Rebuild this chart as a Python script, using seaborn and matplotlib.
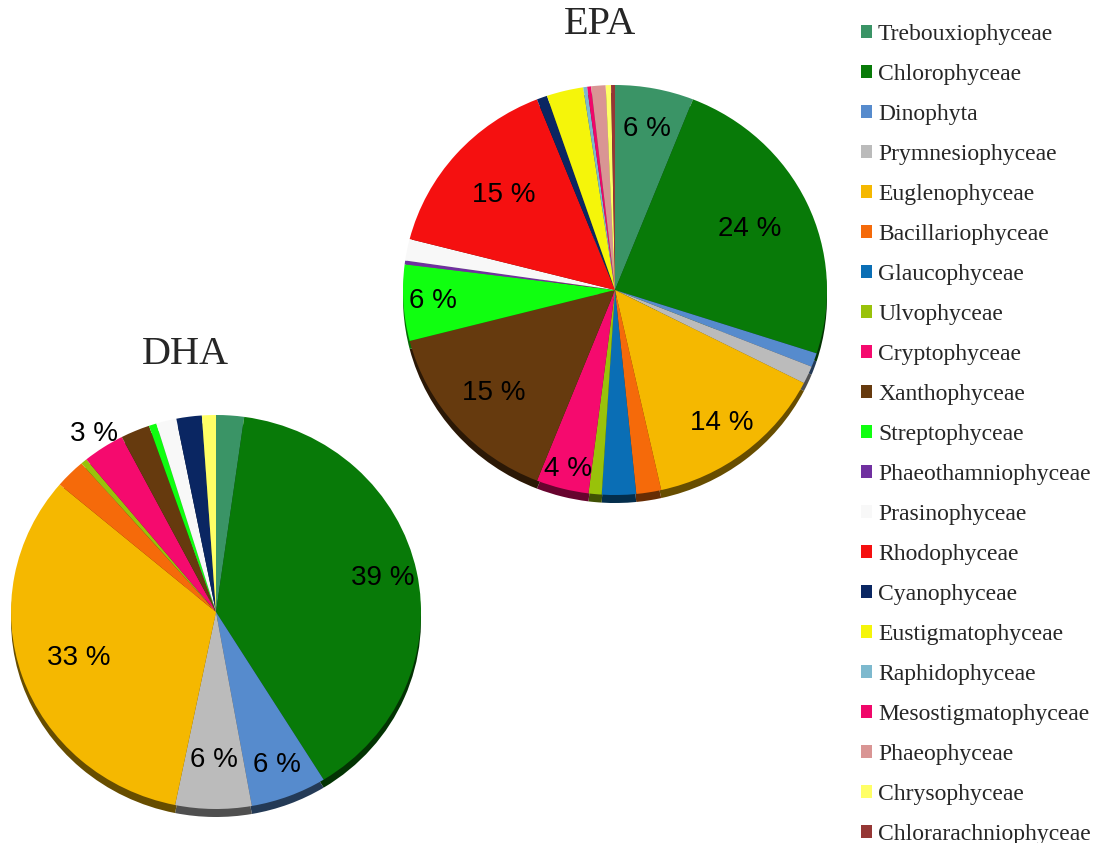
import numpy as np
import matplotlib
matplotlib.use("Agg")
import matplotlib.pyplot as plt
import matplotlib.colors as mcolors
from matplotlib.patches import Patch
import seaborn as sns

sns.set_theme(style="white")
plt.rcParams["font.family"] = ["Liberation Sans", "DejaVu Sans"]

# Algal classes (legend order = slice order, clockwise from 12 o'clock)
classes = [
    "Trebouxiophyceae", "Chlorophyceae", "Dinophyta", "Prymnesiophyceae",
    "Euglenophyceae", "Bacillariophyceae", "Glaucophyceae", "Ulvophyceae",
    "Cryptophyceae", "Xanthophyceae", "Streptophyceae", "Phaeothamniophyceae",
    "Prasinophyceae", "Rhodophyceae", "Cyanophyceae", "Eustigmatophyceae",
    "Raphidophyceae", "Mesostigmatophyceae", "Phaeophyceae", "Chrysophyceae",
    "Chlorarachniophyceae",
]

class_colors = [
    "#3A9466", "#087A08", "#568BCD", "#BBBBBB",
    "#F5B800", "#F56A0A", "#0A6EB5", "#99C20A",
    "#F50A6E", "#663A0E", "#10FF10", "#7030A0",
    "#F8F8F8", "#F51010", "#0A2662", "#F5F50A",
    "#7DB9CE", "#F0076A", "#D99594", "#FFFF66",
    "#953735",
]

# Share of species per class (%)
epa_share = [6, 24, 1.1, 1.4, 14, 1.9, 2.6, 1.0, 4, 15, 6, 0.3,
             1.7, 15, 0.8, 2.8, 0.3, 0.3, 1.1, 0.4, 0.3]
dha_share = [2.2, 39, 6, 6, 33, 2.4, 0, 0.5, 3.3, 2.3, 0.6, 0,
             1.6, 0, 2.0, 0, 0, 0, 0, 1.1, 0]

palette = sns.color_palette(class_colors)
shade = [tuple(np.array(mcolors.to_rgb(c)) * 0.42) for c in palette]

W, H = 1095, 843
fig = plt.figure(figsize=(W / 100, H / 100), dpi=100)
PAD = 1.35


def pie_panel(values, cx, cy, rx, ry, label_r, title, tx, ty):
    ax = fig.add_axes([(cx - PAD * rx) / W, (H - cy - PAD * ry) / H,
                       2 * PAD * rx / W, 2 * PAD * ry / H])
    depth = 8 / ry
    # extruded side of the disc
    ax.pie(values, colors=shade, startangle=90, counterclock=False,
           center=(0, -depth), radius=1, wedgeprops=dict(linewidth=0))
    wedges, _, autotexts = ax.pie(
        values, colors=palette, startangle=90, counterclock=False,
        radius=1, wedgeprops=dict(linewidth=0),
        autopct=lambda p: f"{p:.0f} %" if p >= 3 else "",
        pctdistance=0.8, textprops=dict(fontsize=20, color="black"))
    for w, t in zip(wedges, autotexts):
        if not t.get_text():
            continue
        ang = np.deg2rad((w.theta1 + w.theta2) / 2)
        r = label_r.get(t.get_text(), 0.8)
        if isinstance(r, list):
            r = r.pop(0)
        t.set_position((r * np.cos(ang), r * np.sin(ang)))
        t.set_ha("center")
        t.set_va("center")
    ax.set_xlim(-PAD, PAD)
    ax.set_ylim(-PAD, PAD)
    ax.set_aspect("auto")
    ax.axis("off")
    fig.text(tx / W, 1 - ty / H, title, ha="center", va="center",
             fontsize=29, family=["Liberation Serif", "DejaVu Serif"])
    return ax


pie_panel(epa_share, 615, 290, 212, 205,
          {"6 %": [0.8, 0.86], "24 %": 0.7, "14 %": 0.82, "4 %": 0.9,
           "15 %": [0.76, 0.7]},
          "EPA", 600, 24)
pie_panel(dha_share, 216, 612, 205, 197,
          {"39 %": 0.83, "6 %": [0.83, 0.75], "33 %": 0.71, "3 %": 1.08},
          "DHA", 185, 355)

handles = [Patch(facecolor=c, edgecolor="none") for c in palette]
fig.legend(handles, classes, loc="upper left",
           bbox_to_anchor=(861 / W, 1 - 24 / H), frameon=False,
           prop=dict(family=["Liberation Serif", "DejaVu Serif"], size=17),
           handlelength=0.47, handleheight=0.47, handletextpad=0.25,
           labelspacing=0.805, borderpad=0, borderaxespad=0)

fig.savefig("out.png", dpi=100, facecolor="white")
